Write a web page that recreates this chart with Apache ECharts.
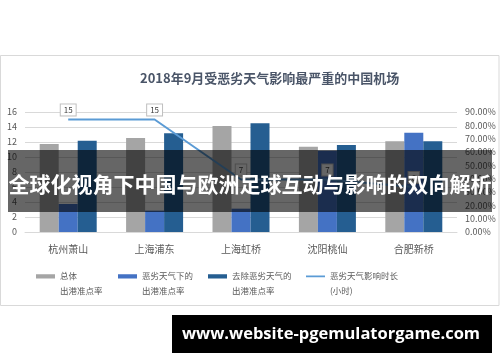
<!DOCTYPE html>
<html>
<head>
<meta charset="utf-8">
<script src="https://cdn.jsdelivr.net/npm/echarts@6/dist/echarts.min.js"></script>
<style>
html,body{margin:0;padding:0;background:#fff;}
#c{width:500px;height:362px;}
</style>
</head>
<body>
<div id="c"></div>
<script>
var categories = ['杭州萧山', '上海浦东', '上海虹桥', '沈阳桃仙', '合肥新桥'];
var overallRate = [0.66, 0.705, 0.795, 0.64, 0.68];
var badWeatherRate = [0.21, 0.16, 0.175, 0.61, 0.745];
var excludeBadRate = [0.685, 0.74, 0.815, 0.653, 0.68];
var impactHours = [15, 15, 7, 7, 6];
var seriesNames = ['总体\n出港准点率', '恶劣天气下的\n出港准点率', '去除恶劣天气的\n出港准点率', '恶劣天气影响时长\n(小时)'];
var titleText = '2018年9月受恶劣天气影响最严重的中国机场';
var bannerText = '全球化视角下中国与欧洲足球互动与影响的双向解析';
var watermarkText = 'www.website-pgemulatorgame.com';

var FONT = 'Noto Sans CJK SC';
var barIcon = 'path://M0,0h20v4.5h-20z M0,19.5h0.01v0.01h-0.01z';
var lineIcon = 'path://M0,1.25h20v2h-20z M0,0h0.01v0.01h-0.01z M0,19.5h0.01v0.01h-0.01z';

function mkLegend(name, left, icon) {
  return {
    data: [{name: name, icon: icon}],
    left: left, top: 268.5, padding: 0,
    itemWidth: 19, itemHeight: 19.51,
    selectedMode: false,
    textStyle: {fontFamily: FONT, fontSize: 8.5, color: '#595959', lineHeight: 15}
  };
}

var chart = echarts.init(document.getElementById('c'), null, {renderer: 'canvas'});
chart.setOption({
  animation: false,
  backgroundColor: '#fff',
  title: {
    text: titleText, left: 140, top: 72, padding: 0,
    textStyle: {fontFamily: FONT, fontSize: 13, fontWeight: 'bold', color: '#4a5568'}
  },
  legend: [
    mkLegend(seriesNames[0], 36, barIcon),
    mkLegend(seriesNames[1], 118, barIcon),
    mkLegend(seriesNames[2], 208, barIcon),
    mkLegend(seriesNames[3], 306, lineIcon)
  ],
  grid: {left: 25, right: 43, top: 112, bottom: 130},
  xAxis: {
    type: 'category', data: categories,
    axisTick: {show: false},
    axisLine: {lineStyle: {color: '#d9d9d9'}},
    axisLabel: {fontFamily: FONT, fontSize: 10, color: '#595959', margin: 12}
  },
  yAxis: [
    {
      type: 'value', min: 0, max: 16, interval: 2,
      axisLine: {show: false}, axisTick: {show: false},
      splitLine: {lineStyle: {color: '#d9d9d9'}},
      axisLabel: {fontFamily: FONT, fontSize: 9, color: '#595959', margin: 8}
    },
    {
      type: 'value', min: 0, max: 0.9, interval: 0.1,
      axisLine: {show: false}, axisTick: {show: false},
      splitLine: {show: false},
      axisLabel: {fontFamily: FONT, fontSize: 9, color: '#595959', margin: 8,
        formatter: function (v) { return (v * 100).toFixed(2) + '%'; }}
    }
  ],
  series: [
    {name: seriesNames[0], type: 'bar', yAxisIndex: 1, data: overallRate, barWidth: 19, barGap: '0%', itemStyle: {color: '#a5a5a5'}},
    {name: seriesNames[1], type: 'bar', yAxisIndex: 1, data: badWeatherRate, barWidth: 19, barGap: '0%', itemStyle: {color: '#4472c4'}},
    {name: seriesNames[2], type: 'bar', yAxisIndex: 1, data: excludeBadRate, barWidth: 19, barGap: '0%', itemStyle: {color: '#255e91'}},
    {
      name: seriesNames[3], type: 'line', yAxisIndex: 0, data: impactHours,
      symbol: 'circle', symbolSize: 0.1, showSymbol: true,
      itemStyle: {color: '#5b9bd5'},
      lineStyle: {color: '#5b9bd5', width: 2},
      z: 5,
      label: {
        show: true, position: 'top', distance: 4,
        fontFamily: FONT, fontSize: 8, color: '#404040',
        backgroundColor: '#fff', borderColor: '#bfbfbf', borderWidth: 1,
        padding: [2, 3, 1, 3]
      }
    }
  ],
  graphic: [
    {type: 'rect', z: -10, silent: true, shape: {x: 0.5, y: 55.5, width: 498.5, height: 250}, style: {fill: 'none', stroke: '#d9d9d9', lineWidth: 1}},
    {type: 'rect', z: 100, silent: true, shape: {x: 8, y: 150, width: 484, height: 62}, style: {fill: 'rgba(0,0,0,0.6)'}},
    {type: 'text', z: 101, silent: true, x: 250, y: 184, style: {text: bannerText, fill: '#fff', font: 'bold 21px "Noto Sans CJK SC"', textAlign: 'center', textVerticalAlign: 'middle'}},
    {type: 'rect', z: 100, silent: true, shape: {x: 172, y: 315, width: 320, height: 38}, style: {fill: '#000'}},
    {type: 'text', z: 101, silent: true, x: 331, y: 334, style: {text: watermarkText, fill: '#fff', font: 'bold 16.5px "Open Sans"', textAlign: 'center', textVerticalAlign: 'middle'}}
  ]
});
</script>
</body>
</html>
